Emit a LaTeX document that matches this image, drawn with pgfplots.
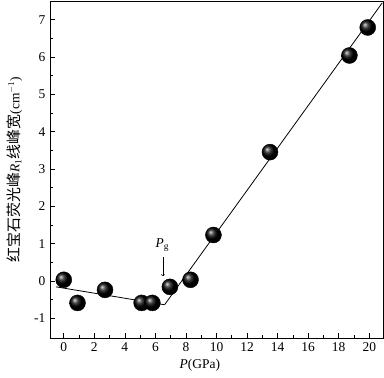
\documentclass[border=0pt]{standalone}
\usepackage{pgfplots}
\pgfplotsset{compat=1.18}
\usepackage{fontspec}
\setmainfont{Liberation Serif}
\newfontfamily\cjk{Noto Sans CJK SC}
\begin{document}
\fontsize{13.5}{15}\selectfont
\begin{tikzpicture}[x=1bp,y=1bp]
\useasboundingbox (0,0) rectangle (384,378);
\begin{axis}[
  scale only axis,
  width=333bp, height=337bp,
  at={(50bp,40bp)}, anchor=south west,
  xmin=-0.9, xmax=20.9,
  ymin=-1.53, ymax=7.5,
  xtick={0,2,...,20},
  ytick={-1,0,...,7},
  minor x tick num=1,
  minor y tick num=1,
  tick align=inside,
  major tick length=5bp,
  minor tick length=3bp,
  tick style={black, line width=0.6pt},
  axis line style={line width=0.8pt},
  xtick pos=bottom, ytick pos=left,
  /pgf/number format/assume math mode=true,
  ticklabel style={font=\fontsize{13.5}{15}\selectfont},
  xlabel={\textit{P}(GPa)},
  xlabel style={font=\fontsize{13.5}{15}\selectfont, at={(axis description cs:0.45,-0.08)}, anchor=center},
  ylabel={{\cjk\fontsize{15}{17}\selectfont 红宝石荧光峰}\textit{R}$_{\mathrm{1}}${\cjk\fontsize{15}{17}\selectfont 线峰宽}(cm$^{-1}$)},
  ylabel style={font=\fontsize{13.5}{15}\selectfont, at={(axis description cs:-0.107,0.5)}, anchor=center, rotate=0},
  clip=false,
]
\addplot[black, line width=0.8pt, no marks] coordinates {(-0.5,-0.16) (6.6,-0.64)};
\addplot[black, line width=0.8pt, no marks] coordinates {(6.6,-0.64) (20.85,7.45)};
\addplot[only marks, mark=ball, mark size=8bp, mark options={ball color=black}] coordinates {
(0,0.03) (0.9,-0.59) (2.7,-0.24) (5.1,-0.59) (5.8,-0.59) (6.95,-0.16) (8.3,0.03) (9.8,1.23) (13.5,3.45) (18.7,6.04) (19.9,6.79)
};
\draw[->, black, line width=0.5pt] (axis cs:6.49,0.64) -- (axis cs:6.49,0.13);
\node at (axis cs:6.45,0.97) {\textit{P}$_{\mathrm{g}}$};
\end{axis}
\end{tikzpicture}
\end{document}
